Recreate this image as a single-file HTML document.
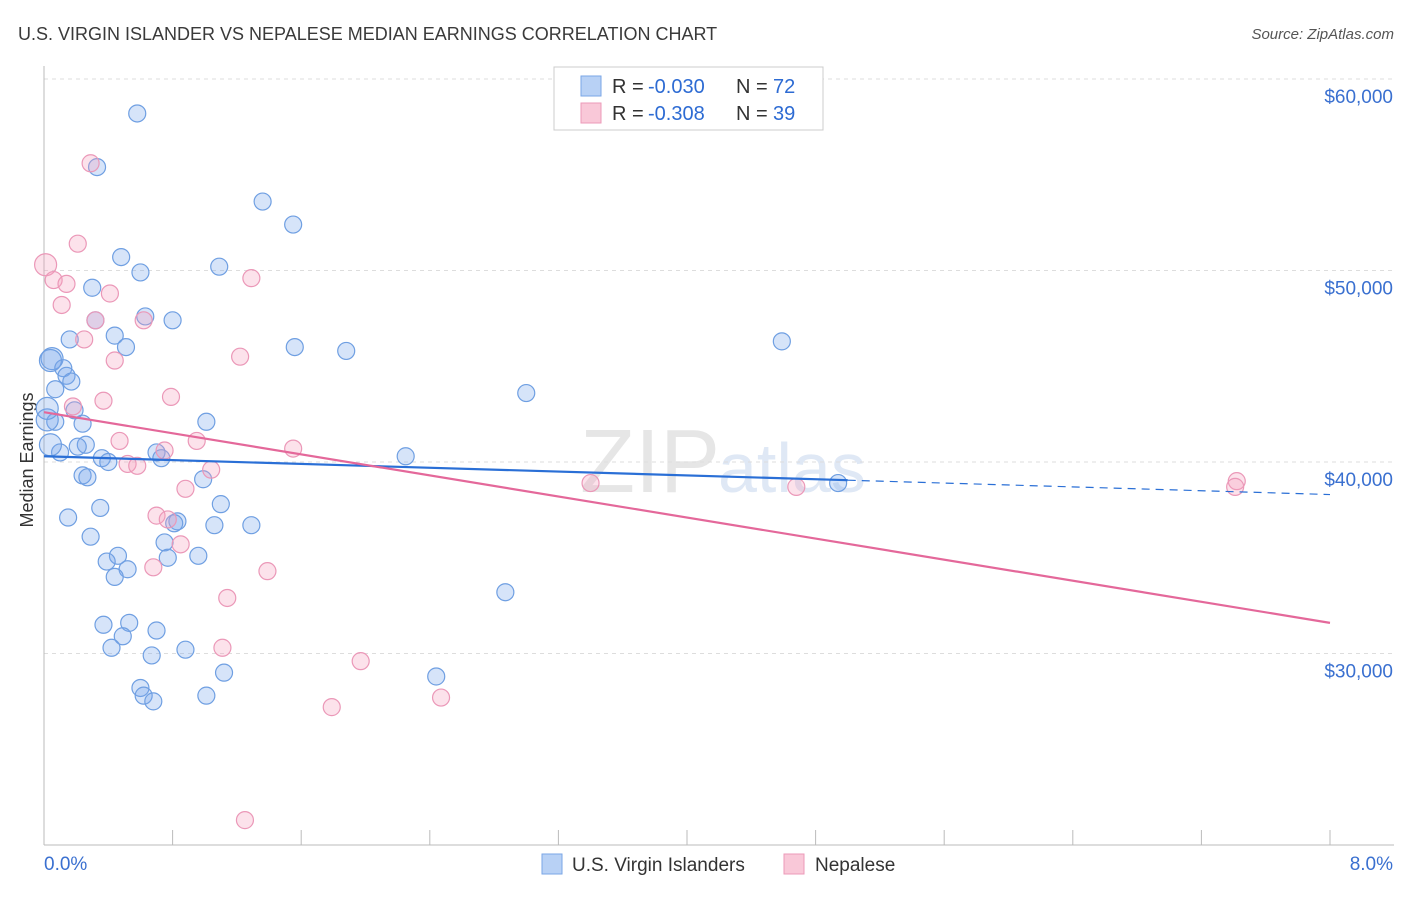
<!DOCTYPE html>
<html><head><meta charset="utf-8"><style>
body{margin:0;background:#fff;font-family:"Liberation Sans",sans-serif;}
svg text{font-family:"Liberation Sans",sans-serif;}
</style></head><body>
<svg id="c" width="1406" height="892">
<text x="18" y="40" font-size="18" fill="#3a3a3a">U.S. VIRGIN ISLANDER VS NEPALESE MEDIAN EARNINGS CORRELATION CHART</text>
<text x="1394" y="39" font-size="15" fill="#555" font-style="italic" text-anchor="end">Source: ZipAtlas.com</text>
<text x="33" y="460" font-size="18" fill="#333" text-anchor="middle" transform="rotate(-90 33 460)">Median Earnings</text>
<text x="720" y="492" font-size="90" fill="#e6e6e6" text-anchor="end" font-family="Liberation Serif">ZIP</text>
<text x="718" y="492" font-size="70" fill="#dfe8f5">atlas</text>
<g id="grid"></g><g id="pts"></g><g id="lines"></g>
<g>
<rect x="554" y="67" width="269" height="63" fill="#fff" stroke="#ccc"/>
<rect x="581" y="76" width="20" height="20" fill="#b8d1f5" stroke="#7aa6e6"/>
<rect x="581" y="103" width="20" height="20" fill="#f9c8d8" stroke="#ec9ab8"/>
<text x="612" y="93" font-size="20" fill="#333">R =</text>
<text x="648" y="93" font-size="20" fill="#2d6bd3">-0.030</text>
<text x="736" y="93" font-size="20" fill="#333">N =</text>
<text x="773" y="93" font-size="20" fill="#2d6bd3">72</text>
<text x="612" y="120" font-size="20" fill="#333">R =</text>
<text x="648" y="120" font-size="20" fill="#2d6bd3">-0.308</text>
<text x="736" y="120" font-size="20" fill="#333">N =</text>
<text x="773" y="120" font-size="20" fill="#2d6bd3">39</text>
</g>
<g>
<rect x="542" y="854" width="20" height="20" fill="#b8d1f5" stroke="#7aa6e6"/>
<text x="572" y="871" font-size="19" fill="#333">U.S. Virgin Islanders</text>
<rect x="784" y="854" width="20" height="20" fill="#f9c8d8" stroke="#ec9ab8"/>
<text x="815" y="871" font-size="19" fill="#333">Nepalese</text>
</g>
</svg>
<script>
const blueX=[0.58,0.33,1.36,1.55,0.48,0.60,1.09,0.30,0.63,0.80,0.32,0.44,0.16,0.51,1.56,1.88,4.59,0.05,0.12,0.14,0.17,0.07,3.00,0.19,1.01,0.07,0.24,0.02,0.26,0.21,0.10,0.70,0.73,0.36,0.40,2.25,0.24,0.27,0.99,1.10,0.35,0.15,0.83,0.81,1.06,1.29,0.29,0.75,0.46,0.96,0.77,0.39,0.52,0.44,2.87,0.37,0.53,0.70,0.49,0.42,0.88,0.67,2.44,1.12,0.60,0.62,0.68,1.01,4.94,0.04,0.02,0.04];
const blueY=[58200,55400,53600,52400,50700,49900,50200,49100,47600,47400,47400,46600,46400,46000,46000,45800,46300,45400,44900,44500,44200,43800,43600,42700,42100,42100,42000,42200,40900,40800,40500,40500,40200,40200,40000,40300,39300,39200,39100,37800,37600,37100,36900,36800,36700,36700,36100,35800,35100,35100,35000,34800,34400,34000,33200,31500,31600,31200,30900,30300,30200,29900,28800,29000,28200,27800,27500,27800,38900,45300,42800,40900];
const pinkX=[0.29,0.21,0.01,0.06,0.14,0.11,0.41,1.29,0.32,0.62,0.25,0.44,1.22,0.79,0.37,0.18,0.95,0.47,0.75,1.55,0.52,0.58,1.04,0.88,3.40,4.68,7.42,7.41,0.70,0.77,0.85,0.68,1.39,1.14,1.11,1.97,2.47,1.79,1.25];
const pinkY=[55600,51400,50300,49500,49300,48200,48800,49600,47400,47400,46400,45300,45500,43400,43200,42900,41100,41100,40600,40700,39900,39800,39600,38600,38900,38700,39000,38700,37200,37000,35700,34500,34300,32900,30300,29600,27700,27200,21300];
const blueLine=[40300,38300], blueSolidEnd=5.0;
const pinkLine=[42600,31600];
const yTicks=[60000,50000,40000,30000];
const yTickLabels=["$60,000","$50,000","$40,000","$30,000"];
const NS="http://www.w3.org/2000/svg";
const sx=v=>44+v/8*1286, sy=v=>79+(60000-v)/10000*191.5;
function mk(p,t,a){const e=document.createElementNS(NS,t);for(const k in a)e.setAttribute(k,a[k]);p.appendChild(e);return e;}
const g=document.getElementById('grid');
yTicks.forEach((t,i)=>{
 const l=mk(g,'line',{x1:44,x2:1394,y1:sy(t),y2:sy(t),stroke:'#ddd','stroke-dasharray':'4 4'});
 
 
 const tx=mk(g,'text',{x:1393,y:sy(t)+24,'font-size':19,fill:'#3a70d0','text-anchor':'end'});
 tx.textContent=yTickLabels[i];
 
 
});
const ax=mk(g,'line',{x1:44,x2:1394,y1:845,y2:845,stroke:'#bbb'});


const ay=mk(g,'line',{x1:44,x2:44,y1:66,y2:845,stroke:'#bbb'});


for(let i=1;i<=10;i++){const t=mk(g,'line',{x1:sx(i*0.8),x2:sx(i*0.8),y1:830,y2:845,stroke:'#bbb'});
 
 }
const x0=mk(g,'text',{x:44,y:870,'font-size':19,fill:'#3a70d0'});x0.textContent='0.0%';


const x1=mk(g,'text',{x:1393,y:870,'font-size':19,fill:'#3a70d0','text-anchor':'end'});x1.textContent='8.0%';


const P=document.getElementById('pts');
blueX.forEach((x,i)=>{const c=mk(P,'circle',{cx:sx(x),cy:sy(blueY[i]),r:x<0.06?11:8.5,fill:'rgba(120,165,235,0.3)',stroke:'#6f9fe2','stroke-width':1.2});
 
 });
pinkX.forEach((x,i)=>{const c=mk(P,'circle',{cx:sx(x),cy:sy(pinkY[i]),r:x<0.06?11:8.5,fill:'rgba(245,160,190,0.3)',stroke:'#eb98b8','stroke-width':1.2});
 
 });
const L=document.getElementById('lines');
const by=v=>blueLine[0]+(blueLine[1]-blueLine[0])*v/8;
const b1=mk(L,'line',{x1:sx(0),y1:sy(by(0)),x2:sx(blueSolidEnd),y2:sy(by(blueSolidEnd)),stroke:'#2a6fd6','stroke-width':2.2});


const b2=mk(L,'line',{x1:sx(blueSolidEnd),y1:sy(by(blueSolidEnd)),x2:sx(8),y2:sy(by(8)),stroke:'#2a6fd6','stroke-width':1.2,'stroke-dasharray':'8 6'});


const p1=mk(L,'line',{x1:sx(0),y1:sy(pinkLine[0]),x2:sx(8),y2:sy(pinkLine[1]),stroke:'#e4689a','stroke-width':2.2});


</script>
</body></html>
